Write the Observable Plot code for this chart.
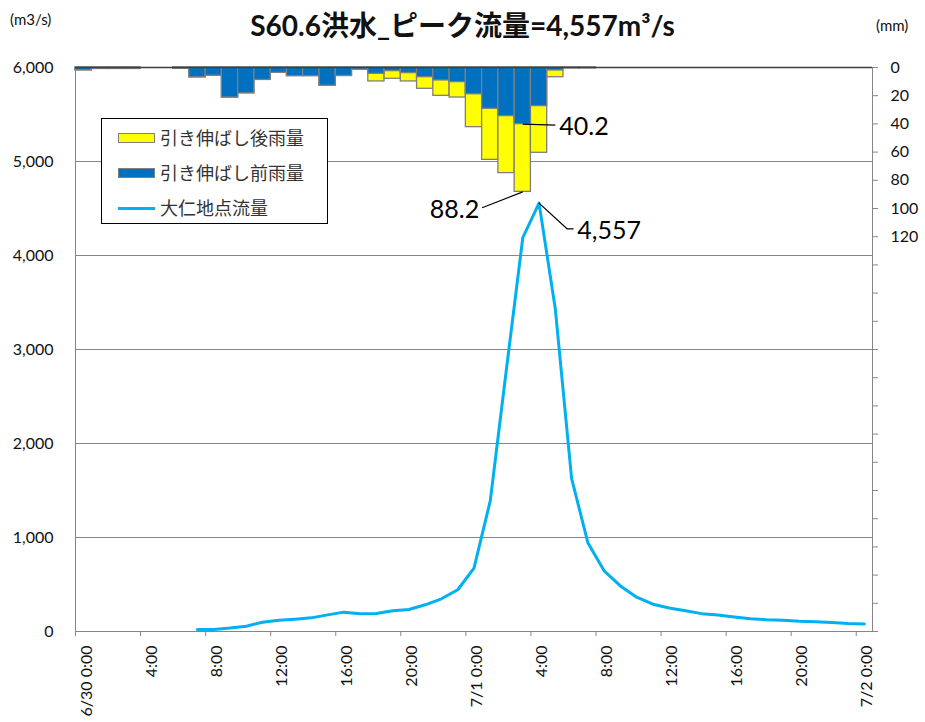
<!DOCTYPE html>
<html><head><meta charset="utf-8">
<script src="https://cdn.jsdelivr.net/npm/d3@7"></script>
<script src="https://cdn.jsdelivr.net/npm/@observablehq/plot@0.6"></script>
<style>
body{margin:0;background:#fff;}
#wrap{position:relative;width:925px;height:722px;font-family:Lato,"Noto Sans CJK JP",sans-serif;color:#111;}
#title{position:absolute;left:0;top:4px;width:925px;text-align:center;font-weight:bold;font-size:28px;font-family:Lato,"Noto Sans CJK JP",sans-serif;white-space:nowrap;}
.unit{position:absolute;font-size:15px;}
#legend{position:absolute;left:101px;top:118px;width:225px;height:104px;border:1px solid #000;background:#fff;}
#legend .it{position:absolute;left:0;height:20px;line-height:20px;font-family:"Noto Sans CJK JP",sans-serif;font-size:18px;color:#333;}
#legend .sw{position:absolute;left:16px;top:5px;width:35px;height:8px;border:1px solid #7f7f7f;}
#legend .ln{position:absolute;left:16px;top:9px;width:37px;height:3px;background:#00b0f0;}
#legend .tx{position:absolute;left:58px;top:-1px;white-space:nowrap;}
svg{position:absolute;left:0;top:0;}
</style></head>
<body>
<div id="wrap"></div>
<script>
// ---- data ----
const hours = d3.range(0, 49); // hourly index from 6/30 0:00
const rainBefore = [2,1,1,1,0,0,0.8,7,5.8,21.3,18.3,8.8,3.8,6.1,6.1,12.9,6,1.5,4.5,2.6,4,6.9,9.2,10.4,19,29.3,34.5,40.2,27.4,2.1,0.5,0.5];
const rainAfter  = [2,1,1,1,0,0,0.8,7,5.8,21.3,18.3,8.8,3.8,6.1,6.1,12.9,6,1.5,9.9,8.0,9.9,15.1,20.1,21.3,42.3,65.5,74.9,88.2,60.5,6.9,0.5,0.5];
const flow = [null,null,null,null,null,null,null,20,22,37,56,99,120,131,145,177,206,188,191,220,234,284,348,444,675,1390,2800,4190,4557,3430,1630,945,645,485,365,290,250,220,190,175,155,135,125,120,110,105,95,85,80];
const tickHours = [0,4,8,12,16,20,24,28,32,36,40,44,48];
const tickLabels = ["6/30 0:00","4:00","8:00","12:00","16:00","20:00","7/1 0:00","4:00","8:00","12:00","16:00","20:00","7/2 0:00"];
const flowTicks = [0,1000,2000,3000,4000,5000,6000];
const mmTicks = d3.range(0, 401, 20);
const mmLabelMax = 120;
const seriesNames = ["引き伸ばし後雨量","引き伸ばし前雨量","大仁地点流量"];
const colors = {after:"#ffff00", before:"#0070c0", flow:"#00b0f0"};

// secondary (rain) axis: 0 mm at top (6000), 400 mm at bottom (0)
const FMAX = 6000, MMMAX = 400;
const mmToFlow = mm => FMAX - mm * FMAX / MMMAX;
const flowToMm = f => Math.round((FMAX - f) * MMMAX / FMAX);

const rainRows = rainBefore.map((b, i) => ({hour: hours[i], before: b, after: rainAfter[i]}));
const flowRows = hours.map((h, i) => ({hour: h, flow: flow[i]})).filter(d => d.flow != null);

const pr = d3.maxIndex(rainAfter);
const pf = d3.maxIndex(flow);
const labelMap = new Map(tickHours.map((h, i) => [h, tickLabels[i]]));

const ann40 = [{x1: pr + 0.5, y1: mmToFlow(rainBefore[pr]), x2: pr + 2.5, y2: mmToFlow(rainBefore[pr] + 0.6), t: String(rainBefore[pr])}];
const ann88 = [{x1: pr + 0.5, y1: mmToFlow(rainAfter[pr]), x2: pr - 2.0, y2: mmToFlow(rainAfter[pr] + 11.3), t: String(rainAfter[pr])}];
const annPeak = [{x: pf + 0.5, y: flow[pf]}, {x: pf + 2.22, y: flow[pf] - 273}, {x: pf + 2.6, y: flow[pf] - 273}];

const chart = Plot.plot({
  width: 925, height: 722,
  marginLeft: 75, marginRight: 53, marginTop: 67, marginBottom: 91,
  x: {domain: [0, 49]},
  y: {domain: [0, FMAX]},
  style: {fontFamily: "Lato, 'Noto Sans CJK JP', sans-serif", fontSize: "16px", color: "#111", background: "transparent"},
  marks: [
    Plot.gridY(flowTicks, {stroke: "#868686", strokeOpacity: 1}),
    Plot.frame({stroke: "#868686"}),
    Plot.rect(rainRows.filter(d => d.after > 0), {x1: "hour", x2: d => d.hour + 1, y1: d => mmToFlow(0), y2: d => mmToFlow(d.after), fill: colors.after, stroke: "#7f7f7f", strokeWidth: 1.3}),
    Plot.rect(rainRows.filter(d => d.before > 0), {x1: "hour", x2: d => d.hour + 1, y1: d => mmToFlow(0), y2: d => mmToFlow(d.before), fill: colors.before, stroke: "#7f7f7f", strokeWidth: 1.3}),
    Plot.ruleY([FMAX], {stroke: "#3f3f3f", strokeWidth: 1.5}),
    Plot.line(flowRows, {x: d => d.hour + 0.5, y: "flow", stroke: colors.flow, strokeWidth: 3, strokeLinejoin: "round"}),
    // axes
    Plot.axisY(flowTicks, {anchor: "left", tickSize: 0, tickPadding: 22, tickFormat: d3.format(","), fontSize: 16}),
    Plot.axisY(mmTicks.map(mmToFlow), {anchor: "right", tickSize: 5, tickPadding: 13, stroke: "#868686", tickFormat: d => flowToMm(d) <= mmLabelMax ? String(flowToMm(d)) : "", fontSize: 16, textAnchor: "start"}),
    Plot.axisX(tickHours, {anchor: "bottom", tickSize: 5, stroke: "#868686", tickFormat: () => ""}),
    Plot.axisX(tickHours, {anchor: "bottom", tickSize: 0, tickPadding: 14, tickRotate: -90, textAnchor: "end", lineAnchor: "middle", dx: 11, tickFormat: d => labelMap.get(d), fontSize: 16}),
    // annotations
    Plot.link(ann40, {x1: "x1", y1: "y1", x2: "x2", y2: "y2", stroke: "#000", strokeWidth: 1.2}),
    Plot.text(ann40, {x: "x2", y: "y2", text: "t", textAnchor: "start", dx: 4, dy: 2, fontSize: 25, fill: "#000"}),
    Plot.link(ann88, {x1: "x1", y1: "y1", x2: "x2", y2: "y2", stroke: "#000", strokeWidth: 1.2}),
    Plot.text(ann88, {x: "x2", y: "y2", text: "t", textAnchor: "end", dx: -3, dy: 2, fontSize: 25, fill: "#000"}),
    Plot.line(annPeak, {x: "x", y: "y", stroke: "#000", strokeWidth: 1.2}),
    Plot.text([annPeak[2]], {x: "x", y: "y", text: () => d3.format(",")(flow[pf]), textAnchor: "start", dx: 4, dy: 2, fontSize: 25, fill: "#000"})
  ]
});

const wrap = document.getElementById("wrap");
wrap.appendChild(chart);
wrap.insertAdjacentHTML("beforeend", `
<div id="title">S60.6洪水_ピーク流量=4,557m³/s</div>
<div class="unit" style="left:10px;top:10px;">(m3/s)</div>
<div class="unit" style="left:876px;top:16px;">(mm)</div>
<div id="legend">
  <div class="it" style="top:9px;width:225px;"><span class="sw" style="background:${colors.after}"></span><span class="tx">${seriesNames[0]}</span></div>
  <div class="it" style="top:44px;width:225px;"><span class="sw" style="background:${colors.before}"></span><span class="tx">${seriesNames[1]}</span></div>
  <div class="it" style="top:79px;width:225px;"><span class="ln"></span><span class="tx">${seriesNames[2]}</span></div>
</div>`);
</script>
</body></html>
